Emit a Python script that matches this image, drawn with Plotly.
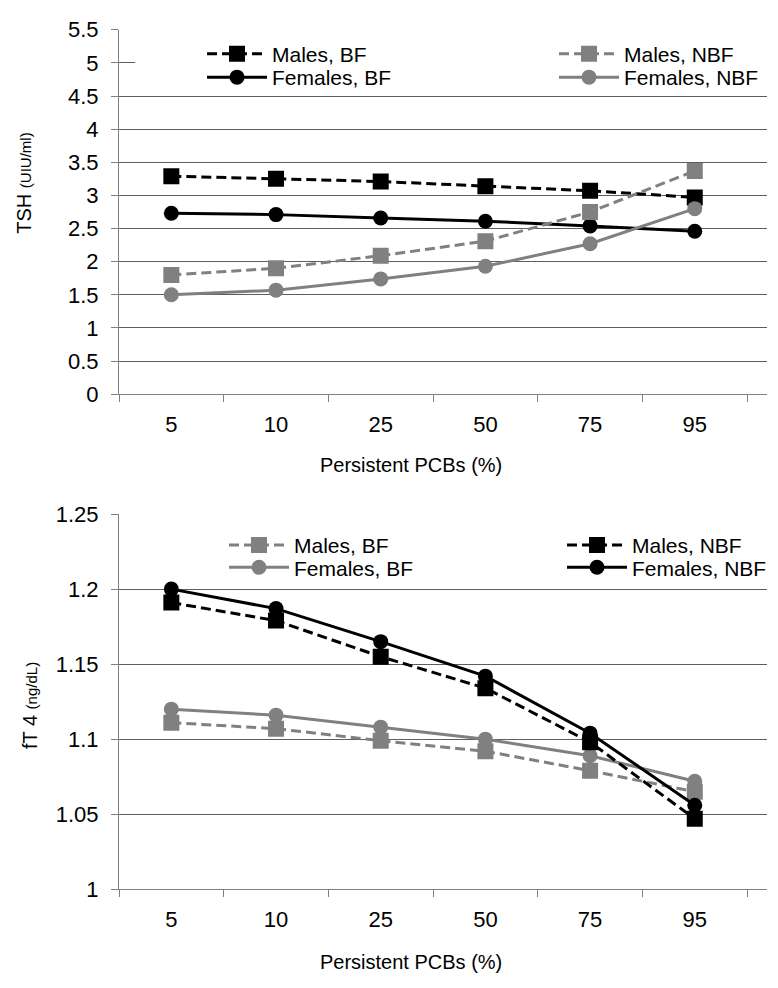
import plotly.graph_objects as go

categories = ["5", "10", "25", "50", "75", "95"]

# Top panel: TSH (UIU/ml)
tsh_males_bf = [3.29, 3.25, 3.21, 3.14, 3.07, 2.97]
tsh_females_bf = [2.73, 2.71, 2.66, 2.61, 2.54, 2.46]
tsh_males_nbf = [1.80, 1.90, 2.09, 2.31, 2.75, 3.37]
tsh_females_nbf = [1.50, 1.57, 1.74, 1.93, 2.27, 2.80]

# Bottom panel: fT4 (ng/dL)
ft4_males_bf = [1.111, 1.107, 1.099, 1.092, 1.079, 1.065]
ft4_females_bf = [1.120, 1.116, 1.108, 1.100, 1.089, 1.072]
ft4_males_nbf = [1.191, 1.179, 1.155, 1.134, 1.098, 1.047]
ft4_females_nbf = [1.200, 1.187, 1.165, 1.142, 1.104, 1.056]

tsh_ticks = [0, 0.5, 1, 1.5, 2, 2.5, 3, 3.5, 4, 4.5, 5, 5.5]
ft4_ticks = [1, 1.05, 1.1, 1.15, 1.2, 1.25]

BLACK = "#000000"
GRAY = "#808080"
FONT = "Liberation Sans, Arial, sans-serif"
DASH = "10px,5px"
FS = 22
LFS = 21

# page has an 8px body margin; figure is sized to the rest of the window
OFF = 8
W, H = 778 - OFF, 988 - OFF

def px(xp):
    return (xp - OFF) / W

def py(yp):
    return 1 - (yp - OFF) / H

fig = go.Figure()

leg_common = dict(bgcolor="rgba(255,255,255,0)", borderwidth=0, orientation="v",
                  font=dict(family=FONT, size=LFS, color="#000000"),
                  itemwidth=60, xanchor="left", yanchor="middle",
                  xref="paper", yref="paper", visible=True)
legends = {}

def add(x, y, name, color, dash, symbol, xa, ya, lx, ly):
    key = "legend" if not legends else f"legend{len(legends) + 1}"
    legends[key] = dict(leg_common, x=px(lx), y=py(ly))
    fig.add_trace(go.Scatter(
        x=x, y=y, name=name, mode="lines+markers", showlegend=True,
        line=dict(color=color, width=3, dash=dash),
        marker=dict(symbol=symbol, size=16 if symbol == "square" else 15, color=color),
        xaxis=xa, yaxis=ya, legend=key,
    ))

add(categories, tsh_males_bf, "Males, BF", BLACK, DASH, "square", "x", "y", 202, 43)
add(categories, tsh_females_bf, "Females, BF", BLACK, "solid", "circle", "x", "y", 202, 67)
add(categories, tsh_males_nbf, "Males, NBF", GRAY, DASH, "square", "x", "y", 554, 43)
add(categories, tsh_females_nbf, "Females, NBF", GRAY, "solid", "circle", "x", "y", 554, 67)

add(categories, ft4_males_bf, "Males, BF", GRAY, DASH, "square", "x2", "y2", 224, 547)
add(categories, ft4_females_bf, "Females, BF", GRAY, "solid", "circle", "x2", "y2", 224, 570)
add(categories, ft4_males_nbf, "Males, NBF", BLACK, DASH, "square", "x2", "y2", 562, 547)
add(categories, ft4_females_nbf, "Females, NBF", BLACK, "solid", "circle", "x2", "y2", 562, 570)

xdom = [px(119), px(767)]

xaxis_common = dict(
    type="category", categoryorder="array", categoryarray=categories,
    range=[-0.5, 5.69], tickson="boundaries", ticks="outside", ticklen=7,
    tickcolor=GRAY, showline=True, linecolor=GRAY, linewidth=1,
    showgrid=False, zeroline=False, ticklabelstandoff=10,
    tickfont=dict(family=FONT, size=FS, color="#000000"), domain=xdom,
)
yaxis_common = dict(
    ticks="outside", ticklen=7, tickcolor=GRAY, showline=True, linecolor=GRAY,
    linewidth=1, showgrid=True, gridcolor="#5e5e5e", gridwidth=1, zeroline=False,
    tickfont=dict(family=FONT, size=FS, color="#000000"), ticklabelstandoff=8,
)

fig.update_layout(
    width=W, height=H, margin=dict(l=0, r=0, t=0, b=0),
    paper_bgcolor="white", plot_bgcolor="white", showlegend=True,
    font=dict(family=FONT, size=FS, color="#000000"),
    xaxis=dict(xaxis_common, anchor="y"),
    xaxis2=dict(xaxis_common, anchor="y2"),
    yaxis=dict(yaxis_common, range=[0, 5.5], tickvals=tsh_ticks,
               ticktext=[f"{v:g}" for v in tsh_ticks],
               domain=[py(392), py(18)], anchor="x"),
    yaxis2=dict(yaxis_common, range=[1, 1.25], tickvals=ft4_ticks,
                ticktext=[f"{v:g}" for v in ft4_ticks],
                domain=[py(900), py(515)], anchor="x2"),
    **legends,
)

# white band behind legend (hides the 5 gridline in the top panel)
fig.add_shape(type="rect", xref="x domain", yref="y", x0=0.025, x1=1.0,
              y0=4.85, y1=5.2, fillcolor="white", line=dict(width=0), layer="above")

# axis titles
fig.add_annotation(text="TSH <span style='font-size:15px'>(UIU/ml)</span>",
                   xref="paper", yref="paper", x=px(24), y=py(176),
                   textangle=-90, showarrow=False, xanchor="center", yanchor="middle",
                   font=dict(family=FONT, size=20))
fig.add_annotation(text="fT 4 <span style='font-size:15px'>(ng/dL)</span>",
                   xref="paper", yref="paper", x=px(30), y=py(712),
                   textangle=-90, showarrow=False, xanchor="center", yanchor="middle",
                   font=dict(family=FONT, size=20))
fig.add_annotation(text="Persistent PCBs (%)", xref="paper", yref="paper",
                   x=px(411), y=py(465), showarrow=False,
                   xanchor="center", yanchor="middle", font=dict(family=FONT, size=20))
fig.add_annotation(text="Persistent PCBs (%)", xref="paper", yref="paper",
                   x=px(411), y=py(975), showarrow=False,
                   xanchor="center", yanchor="middle", font=dict(family=FONT, size=20))

fig.write_html("out.html")
